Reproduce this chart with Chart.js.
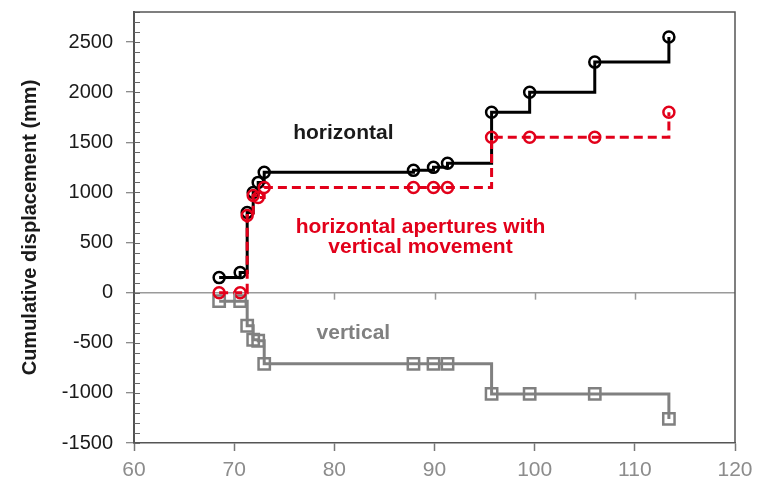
<!DOCTYPE html>
<html>
<head>
<meta charset="utf-8">
<script src="https://cdn.jsdelivr.net/npm/chart.js@4.4.1/dist/chart.umd.min.js"></script>
<style>
  html, body { margin: 0; padding: 0; background: #fff; }
  #wrap { width: 763px; height: 484px; }
</style>
</head>
<body>
<div id="wrap"><canvas id="chart" width="763" height="484"></canvas></div>
<script>
// distance along the section (x) and cumulative displacement per series (mm)
const distance   = [68.5, 70.6, 71.3, 71.9, 72.4, 73.0, 87.9, 89.9, 91.3, 95.7, 99.5, 106.0, 113.4];
const horizontal = [150, 200, 800, 1000, 1100, 1200, 1220, 1250, 1290, 1800, 2000, 2300, 2550];
const apertures  = [0, 0, 770, 970, 950, 1050, 1050, 1050, 1050, 1550, 1550, 1550, 1800];
const vertical   = [-85, -85, -330, -470, -480, -710, -710, -710, -710, -1010, -1010, -1010, -1260];

const xTicks = [60, 70, 80, 90, 100, 110, 120];
const yTicks = [-1500, -1000, -500, 0, 500, 1000, 1500, 2000, 2500];

const RED = '#e2001a', GREY = '#808080', BLACK = '#000000';
const FONT = "'Liberation Sans', Arial, sans-serif";
Chart.defaults.font.family = FONT;

const pts = arr => distance.map((x, i) => ({ x, y: arr[i] }));

// frame, minor ticks, tick marks on the zero line and the series labels
const extras = {
  id: 'extras',
  afterDraw(c) {
    const { ctx, chartArea: a, scales: { x, y } } = c;
    ctx.save();
    // minor ticks inside left axis
    ctx.strokeStyle = '#666';
    ctx.lineWidth = 1;
    for (let v = -1500; v <= 2800; v += 100) {
      const py = Math.round(y.getPixelForValue(v)) + 0.5;
      ctx.beginPath(); ctx.moveTo(a.left, py); ctx.lineTo(a.left + 6, py); ctx.stroke();
    }
    // ticks hanging under the zero line
    const y0 = y.getPixelForValue(0);
    ctx.strokeStyle = '#9a9a9a';
    ctx.lineWidth = 1.5;
    xTicks.slice(1, -1).forEach(v => {
      const px = Math.round(x.getPixelForValue(v)) + 0.5;
      ctx.beginPath(); ctx.moveTo(px, y0); ctx.lineTo(px, y0 + 7); ctx.stroke();
    });
    // top and right frame
    ctx.strokeStyle = '#555';
    ctx.lineWidth = 1.5;
    ctx.beginPath();
    ctx.moveTo(a.left, a.top); ctx.lineTo(a.right, a.top); ctx.lineTo(a.right, a.bottom);
    ctx.stroke();
    // series labels
    ctx.font = 'bold 21px ' + FONT;
    ctx.textAlign = 'center';
    ctx.textBaseline = 'middle';
    ctx.fillStyle = '#1a1a1a';
    ctx.fillText('horizontal', x.getPixelForValue(80.9), y.getPixelForValue(1590));
    ctx.fillStyle = RED;
    ctx.fillText('horizontal apertures with', x.getPixelForValue(88.6), y.getPixelForValue(650));
    ctx.fillText('vertical movement', x.getPixelForValue(88.6), y.getPixelForValue(450));
    ctx.fillStyle = GREY;
    ctx.fillText('vertical', x.getPixelForValue(81.9), y.getPixelForValue(-400));
    ctx.restore();
  }
};

new Chart(document.getElementById('chart'), {
  type: 'line',
  data: {
    datasets: [
      {
        label: 'horizontal apertures with vertical movement',
        data: pts(apertures),
        borderColor: RED, borderWidth: 3, borderDash: [9, 5], stepped: true,
        pointStyle: 'circle', pointRadius: 5.5, pointBorderWidth: 2.5,
        pointBorderColor: RED, pointBackgroundColor: 'transparent'
      },
      {
        label: 'horizontal',
        data: pts(horizontal),
        borderColor: BLACK, borderWidth: 3, stepped: true,
        pointStyle: 'circle', pointRadius: 5.5, pointBorderWidth: 2.5,
        pointBorderColor: BLACK, pointBackgroundColor: 'transparent'
      },
      {
        label: 'vertical',
        data: pts(vertical),
        borderColor: GREY, borderWidth: 3, stepped: true,
        pointStyle: 'rect', pointRadius: 8, pointBorderWidth: 2.5,
        pointBorderColor: GREY, pointBackgroundColor: 'transparent'
      }
    ]
  },
  options: {
    responsive: false,
    animation: false,
    devicePixelRatio: 1,
    events: [],
    layout: { padding: { top: 12, right: 28, left: 0, bottom: 0 } },
    plugins: { legend: { display: false }, tooltip: { enabled: false } },
    scales: {
      x: {
        type: 'linear', min: 60, max: 120,
        afterBuildTicks: s => { s.ticks = xTicks.map(value => ({ value })); },
        afterFit: s => { s.height = 41; s.paddingLeft = 0; s.paddingRight = 0; },
        ticks: { color: '#8c8c8c', font: { size: 21 }, padding: 7, callback: v => String(v) },
        grid: { drawOnChartArea: false, tickLength: 8, tickColor: '#777', tickWidth: 1.5 },
        border: { color: '#555', width: 1.5 }
      },
      y: {
        min: -1500, max: 2800,
        afterBuildTicks: s => { s.ticks = yTicks.map(value => ({ value })); },
        afterFit: s => { s.width = 134; s.paddingTop = 0; s.paddingBottom = 0; },
        ticks: { color: '#1a1a1a', font: { size: 20 }, padding: 13, callback: v => String(v) },
        grid: {
          color: ctx => (ctx.tick && ctx.tick.value === 0 ? '#9a9a9a' : 'transparent'),
          lineWidth: 1.5, tickLength: 8, tickColor: '#666', tickWidth: 1
        },
        border: { color: '#555', width: 2 },
        title: {
          display: true, text: 'Cumulative displacement (mm)', color: '#1a1a1a',
          font: { size: 20, weight: 'bold' }, padding: { top: 18, bottom: 0 }
        }
      }
    }
  },
  plugins: [extras]
});
</script>
</body>
</html>
